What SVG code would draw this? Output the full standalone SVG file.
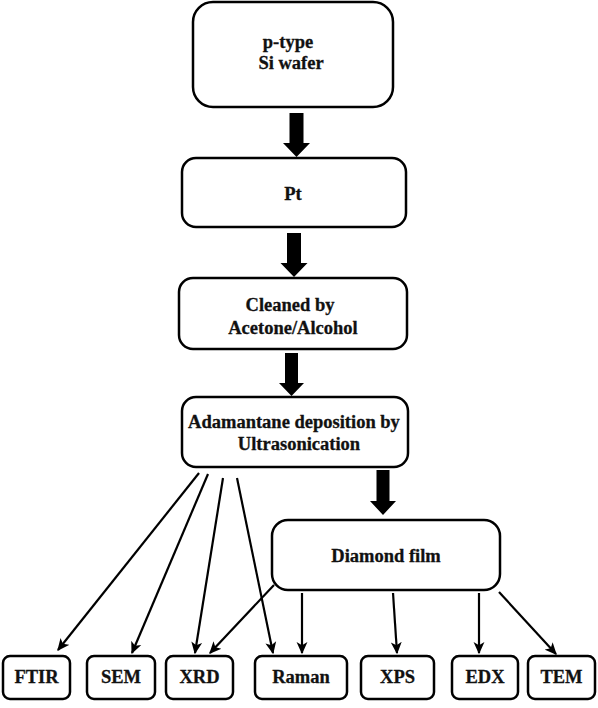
<svg xmlns="http://www.w3.org/2000/svg" width="598" height="708" viewBox="0 0 598 708">
<defs>
<style>
.box{fill:#fff;stroke:#000;stroke-width:2.5}
.t{font-family:"Liberation Serif","Times New Roman",serif;font-weight:bold;font-size:18.5px;fill:#111;stroke:#111;stroke-width:0.3;text-anchor:middle}
.ln{stroke:#000;stroke-width:2.2;fill:none;marker-end:url(#ah)}
.big{fill:#000}
</style>
<marker id="ah" viewBox="0 0 10 10" refX="9" refY="5" markerWidth="5.5" markerHeight="5.5" orient="auto" markerUnits="strokeWidth">
<path d="M0,0.5 L10,5 L0,9.5 L2.5,5 Z" fill="#000"/>
</marker>
</defs>
<rect width="598" height="708" fill="#fff"/>
<g id="n1"><rect class="box" x="193" y="2" width="200" height="105" rx="20"/><text class="t" x="288" y="48">p-type</text><text class="t" x="291" y="69">Si wafer</text></g>
<g id="n2"><rect class="box" x="182" y="158" width="224" height="69" rx="14"/><text class="t" x="293" y="200">Pt</text></g>
<g id="n3"><rect class="box" x="179" y="278" width="228" height="71" rx="14"/><text class="t" x="290" y="311">Cleaned by</text><text class="t" x="293" y="334">Acetone/Alcohol</text></g>
<g id="n4"><rect class="box" x="182" y="397" width="226" height="70" rx="14"/><text class="t" x="294" y="428">Adamantane deposition by</text><text class="t" x="299" y="450">Ultrasonication</text></g>
<g id="n5"><rect class="box" x="272" y="520" width="228" height="70" rx="16"/><text class="t" x="386" y="562">Diamond film</text></g>
<g id="b1"><rect class="box" x="3" y="656" width="67" height="43" rx="7"/><text class="t" x="36.5" y="683">FTIR</text></g>
<g id="b2"><rect class="box" x="87" y="656" width="68" height="43" rx="7"/><text class="t" x="121" y="683">SEM</text></g>
<g id="b3"><rect class="box" x="166" y="656" width="67" height="43" rx="7"/><text class="t" x="199.5" y="683">XRD</text></g>
<g id="b4"><rect class="box" x="255" y="656" width="92" height="43" rx="7"/><text class="t" x="301" y="683">Raman</text></g>
<g id="b5"><rect class="box" x="361" y="656" width="73" height="43" rx="7"/><text class="t" x="397.5" y="683">XPS</text></g>
<g id="b6"><rect class="box" x="452" y="656" width="66" height="43" rx="7"/><text class="t" x="485" y="683">EDX</text></g>
<g id="b7"><rect class="box" x="528" y="656" width="67" height="43" rx="7"/><text class="t" x="561.5" y="683">TEM</text></g>
<g id="connectors">
<polygon class="big" points="289.5,113 303.5,113 303.5,143 310,143 296.5,157 283,143 289.5,143"/>
<polygon class="big" points="287,233 301,233 301,263 307.5,263 294,277 280.5,263 287,263"/>
<polygon class="big" points="285,353 298,353 298,383 304,383 291.5,396 279,383 285,383"/>
<polygon class="big" points="376.5,470 389.5,470 389.5,501 396,501 383,515 370,501 376.5,501"/>
<line class="ln" x1="199" y1="473" x2="58" y2="650"/>
<line class="ln" x1="208" y1="474" x2="132" y2="653"/>
<line class="ln" x1="223" y1="478" x2="195" y2="653"/>
<line class="ln" x1="237" y1="478" x2="273" y2="653"/>
<line class="ln" x1="274" y1="585" x2="210" y2="653"/>
<line class="ln" x1="302" y1="593" x2="302" y2="653"/>
<line class="ln" x1="393" y1="593" x2="397" y2="653"/>
<line class="ln" x1="479" y1="593" x2="479" y2="653"/>
<line class="ln" x1="499" y1="592" x2="556" y2="654"/>
</g>
</svg>
